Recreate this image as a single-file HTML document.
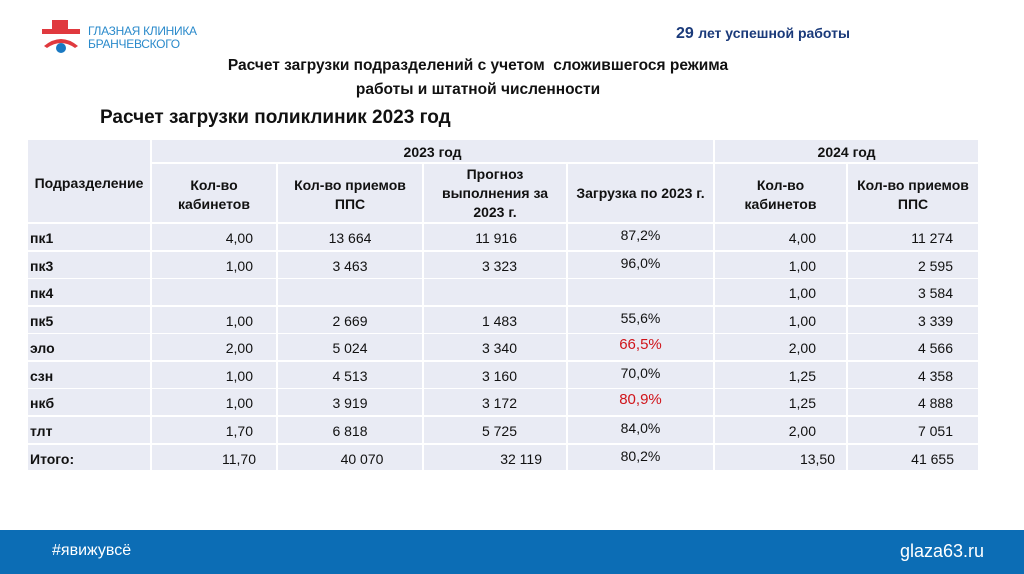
<!DOCTYPE html>
<html><head><meta charset="utf-8"><style>
body{margin:0;width:1024px;height:574px;background:#fff;position:relative;overflow:hidden;font-family:"Liberation Sans","DejaVu Sans",sans-serif;color:#111}
.a{position:absolute;white-space:nowrap}
.b{font-weight:bold}
.cell{position:absolute;background:#e9ebf4}
.t{position:absolute;font-size:14px;line-height:16px;white-space:nowrap}
</style></head><body>
<svg class="a" style="left:40px;top:18px" width="42" height="42" viewBox="0 0 42 42">
<rect x="12" y="2" width="16" height="10" fill="#e0393e"/>
<rect x="2" y="11" width="38" height="5" fill="#e0393e"/>
<path d="M4 28 Q21 14 38 28 L35 30 Q21 20 7 30Z" fill="#e0393e"/>
<circle cx="21" cy="30" r="5" fill="#1a79c2"/>
</svg>
<div class="a" style="left:88px;top:25px;font-size:12px;color:#2a8acb;line-height:13px;letter-spacing:-0.3px">ГЛАЗНАЯ КЛИНИКА<br>БРАНЧЕВСКОГО</div>
<div class="a b" style="left:676px;top:25px;font-size:16px;color:#1a3a7a">29 <span style="font-size:14px">лет успешной работы</span></div>
<div class="a b" style="left:196px;top:54px;font-size:15.5px;line-height:24px;text-align:center;width:564px">Расчет загрузки подразделений с учетом&nbsp; сложившегося режима<br>работы и штатной численности</div>
<div class="a b" style="left:100px;top:107px;font-size:19px">Расчет загрузки поликлиник 2023 год</div>

<div class="cell" style="left:28px;top:140px;width:122px;height:82px"></div>
<div class="cell" style="left:152px;top:140px;width:561px;height:22px"></div>
<div class="cell" style="left:715px;top:140px;width:263px;height:22px"></div>
<div class="cell" style="left:152px;top:164px;width:124px;height:58px"></div>
<div class="cell" style="left:278px;top:164px;width:144px;height:58px"></div>
<div class="cell" style="left:424px;top:164px;width:142px;height:58px"></div>
<div class="cell" style="left:568px;top:164px;width:145px;height:58px"></div>
<div class="cell" style="left:715px;top:164px;width:131px;height:58px"></div>
<div class="cell" style="left:848px;top:164px;width:130px;height:58px"></div>
<div id="rows"></div>

<div class="t b" style="left:28px;top:175px;width:122px;text-align:center">Подразделение</div>
<div class="t b" style="left:152px;top:144px;width:561px;text-align:center">2023 год</div>
<div class="t b" style="left:715px;top:144px;width:263px;text-align:center">2024 год</div>
<div class="t b" style="left:152px;top:176px;width:124px;text-align:center;line-height:19px">Кол-во<br>кабинетов</div>
<div class="t b" style="left:278px;top:176px;width:144px;text-align:center;line-height:19px">Кол-во приемов<br>ППС</div>
<div class="t b" style="left:424px;top:165px;width:142px;text-align:center;line-height:19px">Прогноз<br>выполнения за<br>2023 г.</div>
<div class="t b" style="left:568px;top:185px;width:145px;text-align:center">Загрузка по 2023 г.</div>
<div class="t b" style="left:715px;top:176px;width:131px;text-align:center;line-height:19px">Кол-во<br>кабинетов</div>
<div class="t b" style="left:848px;top:176px;width:130px;text-align:center;line-height:19px">Кол-во приемов<br>ППС</div>

<div class="a" style="left:0;top:530px;width:1024px;height:44px;background:#0c6db5"></div>
<div class="a" style="left:52px;top:542px;font-size:16px;color:#fff">#явижувсё</div>
<div class="a" style="left:900px;top:541px;font-size:18px;color:#fff">glaza63.ru</div>

<script>
var data=[["пк1","4,00","13 664","11 916","87,2%","4,00","11 274"],
["пк3","1,00","3 463","3 323","96,0%","1,00","2 595"],
["пк4","","","","","1,00","3 584"],
["пк5","1,00","2 669","1 483","55,6%","1,00","3 339"],
["эло","2,00","5 024","3 340","66,5%","2,00","4 566"],
["сзн","1,00","4 513","3 160","70,0%","1,25","4 358"],
["нкб","1,00","3 919","3 172","80,9%","1,25","4 888"],
["тлт","1,70","6 818","5 725","84,0%","2,00","7 051"],
["Итого:","11,70","40 070","32 119","80,2%","13,50","41 655"]];
var cols=[[28,122],[152,124],[278,144],[424,142],[568,145],[715,131],[848,130]];
var tops=[224,252,279,307,334,362,389,417,445];
var h="";
data.forEach(function(r,i){
 var y=tops[i],hh=(i==8?25:26);
 cols.forEach(function(c){h+='<div class="cell" style="left:'+c[0]+'px;top:'+y+'px;width:'+c[1]+'px;height:'+hh+'px"></div>';});
 var ty=y+6;
 h+='<div class="t b" style="left:30px;top:'+ty+'px">'+r[0]+'</div>';
 var tot=i==8;
 h+='<div class="t" style="left:152px;width:'+(tot?104:101)+'px;text-align:right;top:'+ty+'px">'+r[1]+'</div>';
 h+='<div class="t" style="left:'+(tot?290:278)+'px;width:144px;text-align:center;top:'+ty+'px">'+r[2]+'</div>';
 h+='<div class="t" style="left:424px;width:'+(tot?118:93)+'px;text-align:right;top:'+ty+'px">'+r[3]+'</div>';
 var red=(r[4]=="66,5%"||r[4]=="80,9%");
 h+='<div class="t" style="left:568px;width:145px;text-align:center;top:'+(ty-3)+'px;'+(red?'color:#d0141a;font-size:15px':'')+'">'+r[4]+'</div>';
 h+='<div class="t" style="left:715px;width:'+(tot?120:101)+'px;text-align:right;top:'+ty+'px">'+r[5]+'</div>';
 h+='<div class="t" style="left:848px;width:'+(tot?106:105)+'px;text-align:right;top:'+ty+'px">'+r[6]+'</div>';
});
document.getElementById("rows").innerHTML=h;
</script>
</body></html>
